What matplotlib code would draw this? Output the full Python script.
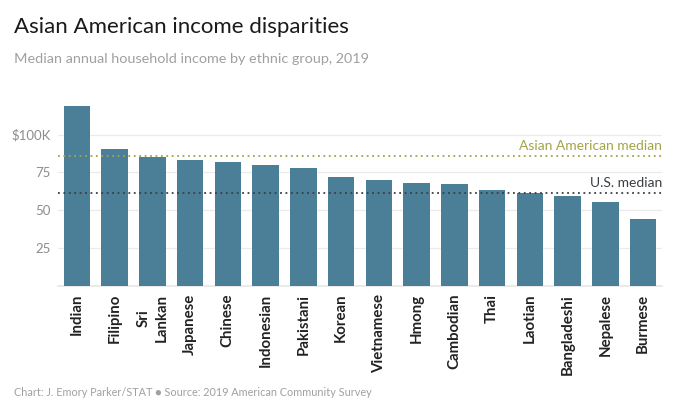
import matplotlib
matplotlib.use("Agg")
import matplotlib.pyplot as plt
import numpy as np

plt.rcParams['font.family'] = ['Lato', 'DejaVu Sans']

groups = ['Indian', 'Filipino', 'Sri\nLankan', 'Japanese', 'Chinese', 'Indonesian',
          'Pakistani', 'Korean', 'Vietnamese', 'Hmong', 'Cambodian', 'Thai',
          'Laotian', 'Bangladeshi', 'Nepalese', 'Burmese']
income_k = [119.0, 90.3, 85.0, 83.0, 81.7, 79.9, 77.9, 72.1, 69.8, 68.2, 67.1,
            63.1, 61.3, 59.5, 55.2, 44.3]
asian_median = 85.8
us_median = 61.6
y_ticks = [25, 50, 75, 100]
y_tick_labels = ['25', '50', '75', '$100K']

BAR = '#4b7f97'
OLIVE = '#a3a447'
DARK = '#3a3f44'
GREY = '#8c8c8c'

fig = plt.figure(figsize=(6.8, 4.13), dpi=100)
ax = fig.add_axes([58 / 680, 1 - 285.5 / 413, 604 / 680, 181 / 413])

x = np.arange(len(groups))
ax.bar(x, income_k, width=0.7, color=BAR, zorder=3)

ax.set_xlim(-0.5, len(groups) - 0.5)
ax.set_ylim(0, 120)
ax.set_yticks(y_ticks)
ax.set_yticklabels(y_tick_labels, color=GREY, fontsize=9.5)
ax.yaxis.grid(True, color='#ebebeb', linewidth=0.9, zorder=0)
ax.tick_params(axis='y', length=0, pad=5)

ax.set_xticks(x)
ax.set_xticklabels(groups, rotation=90, fontsize=10.8, color='#222222',
                   fontweight='bold', va='top', linespacing=1.35)
ax.tick_params(axis='x', length=0, pad=6)

for s in ['top', 'right', 'left']:
    ax.spines[s].set_visible(False)
ax.spines['bottom'].set_color('#e6e6e6')
ax.spines['bottom'].set_linewidth(1.2)

# reference lines
ax.axhline(asian_median, color=OLIVE, linestyle=(0, (1, 2)), linewidth=1.3, zorder=4)
ax.axhline(us_median, color=DARK, linestyle=(0, (1, 2)), linewidth=1.3, zorder=4)
ax.text(len(groups) - 0.5, asian_median + 2.5, 'Asian American median',
        ha='right', va='bottom', color=OLIVE, fontsize=10)
ax.text(len(groups) - 0.5, us_median + 2.5, 'U.S. median',
        ha='right', va='bottom', color=DARK, fontsize=10)

fig.text(14 / 680, 1 - 27 / 413, 'Asian American income disparities',
         fontsize=16, color='#1a1a1a', va='center', ha='left')
fig.text(14 / 680, 1 - 59 / 413, 'Median annual household income by ethnic group, 2019',
         fontsize=10.4, color='#a0a0a0', va='center', ha='left')
fig.text(14 / 680, 1 - 392 / 413,
         'Chart: J. Emory Parker/STAT \u25CF Source: 2019 American Community Survey',
         fontsize=7.8, color='#a0a0a0', va='center', ha='left')

fig.savefig('out.png', dpi=100)
